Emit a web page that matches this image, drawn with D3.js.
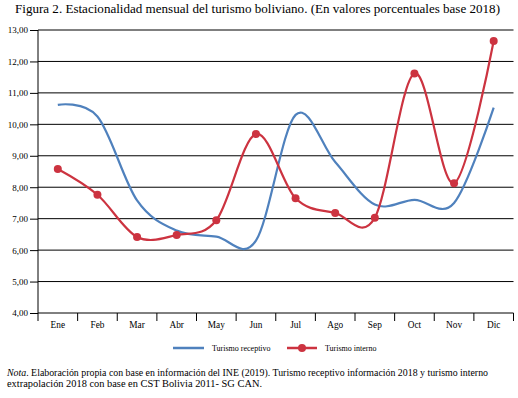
<!DOCTYPE html>
<html>
<head>
<meta charset="utf-8">
<script src="https://cdn.jsdelivr.net/npm/d3@7"></script>
<style>
  body { margin: 0; background: #fff; }
  text { font-family: "Liberation Serif", "Times New Roman", serif; fill: #000; }
</style>
</head>
<body>
<div id="viz"></div>
<script>
// data
var months = ['Ene', 'Feb', 'Mar', 'Abr', 'May', 'Jun', 'Jul', 'Ago', 'Sep', 'Oct', 'Nov', 'Dic'];
var receptivo = [10.62, 10.25, 7.58, 6.62, 6.43, 6.3, 10.3, 8.8, 7.45, 7.6, 7.5, 10.53];
var interno = [8.58, 7.76, 6.42, 6.48, 6.95, 9.69, 7.65, 7.18, 7.03, 11.62, 8.13, 12.65];
var yTicks = [4, 5, 6, 7, 8, 9, 10, 11, 12, 13];

var blue = '#4f81bd';
var red = '#cc3340';

var svg = d3.select('#viz').append('svg')
	.attr('width', 518)
	.attr('height', 398);

// scales
var x = d3.scaleBand().domain(months).range([38, 513.5]);
var y = d3.scaleLinear().domain([4, 13]).range([313, 30]);

var fmt = d3.formatLocale({decimal: ',', thousands: '.', grouping: [3], currency: ['', '']}).format('.2f');

// title
svg.append('text')
	.attr('x', 15)
	.attr('y', 13)
	.attr('textLength', 485)
	.attr('lengthAdjust', 'spacingAndGlyphs')
	.attr('style', 'font-size: 12.4px')
	.text('Figura 2. Estacionalidad mensual del turismo boliviano. (En valores porcentuales base 2018)');

// gridlines
svg.append('g').selectAll('line')
	.data(yTicks).enter()
	.append('line')
	.attr('x1', 38).attr('x2', 513.5)
	.attr('y1', function(d) { return y(d); })
	.attr('y2', function(d) { return y(d); })
	.attr('stroke', '#000')
	.attr('stroke-width', 1);

// y axis
var yAxis = svg.append('g')
	.attr('transform', 'translate(38,0)')
	.call(d3.axisLeft(y).tickValues(yTicks).tickSize(8).tickPadding(2).tickFormat(fmt));
yAxis.select('.domain').remove();
yAxis.selectAll('.tick line').attr('stroke', '#000');
yAxis.selectAll('.tick text').attr('style', 'font-size: 9px; font-family: "Liberation Serif", serif');

svg.append('line')
	.attr('x1', 38).attr('x2', 38)
	.attr('y1', y(13)).attr('y2', 321)
	.attr('stroke', '#000');

// x axis: labels at band centres, ticks at band edges
var xAxis = svg.append('g')
	.attr('transform', 'translate(0,313)')
	.call(d3.axisBottom(x).tickSize(0).tickPadding(8));
xAxis.select('.domain').remove();
xAxis.selectAll('.tick text').attr('style', 'font-size: 9.3px; font-family: "Liberation Serif", serif');

var edges = months.slice(1).map(function(m) { return x(m); }).concat([x.range()[1]]);
svg.append('g').selectAll('line')
	.data(edges).enter()
	.append('line')
	.attr('x1', function(d) { return d; })
	.attr('x2', function(d) { return d; })
	.attr('y1', 313).attr('y2', 321)
	.attr('stroke', '#000');

// smoothed lines (Excel-like)
var line = d3.line()
	.x(function(d, i) { return x(months[i]) + x.bandwidth() / 2; })
	.y(function(d) { return y(d); })
	.curve(d3.curveCardinal.tension(0));

svg.append('path')
	.datum(receptivo)
	.attr('d', line)
	.attr('fill', 'none')
	.attr('stroke', blue)
	.attr('stroke-width', 2.2);

svg.append('path')
	.datum(interno)
	.attr('d', line)
	.attr('fill', 'none')
	.attr('stroke', red)
	.attr('stroke-width', 2.2);

svg.append('g').selectAll('circle')
	.data(interno).enter()
	.append('circle')
	.attr('cx', function(d, i) { return x(months[i]) + x.bandwidth() / 2; })
	.attr('cy', function(d) { return y(d); })
	.attr('r', 4)
	.attr('fill', red);

// legend
var legend = svg.append('g').attr('transform', 'translate(0,348)');
legend.append('line')
	.attr('x1', 173).attr('x2', 204).attr('y1', 0).attr('y2', 0)
	.attr('stroke', blue).attr('stroke-width', 2.5);
legend.append('text')
	.attr('x', 212).attr('y', 3)
	.attr('style', 'font-size: 8px')
	.text('Turismo receptivo');
legend.append('line')
	.attr('x1', 287).attr('x2', 317).attr('y1', 0).attr('y2', 0)
	.attr('stroke', red).attr('stroke-width', 2.5);
legend.append('circle')
	.attr('cx', 302).attr('cy', 0).attr('r', 4)
	.attr('fill', red);
legend.append('text')
	.attr('x', 325).attr('y', 3)
	.attr('style', 'font-size: 8px')
	.text('Turismo interno');

// note
var note = svg.append('text')
	.attr('x', 7).attr('y', 376)
	.attr('textLength', 481)
	.attr('lengthAdjust', 'spacingAndGlyphs')
	.attr('style', 'font-size: 9.8px');
note.append('tspan').attr('font-style', 'italic').text('Nota');
note.append('tspan').text('. Elaboración propia con base en información del INE (2019). Turismo receptivo información 2018 y turismo interno');
svg.append('text')
	.attr('x', 7).attr('y', 387)
	.attr('textLength', 255)
	.attr('lengthAdjust', 'spacingAndGlyphs')
	.attr('style', 'font-size: 9.8px')
	.text('extrapolación 2018 con base en CST Bolivia 2011- SG CAN.');
</script>
</body>
</html>
